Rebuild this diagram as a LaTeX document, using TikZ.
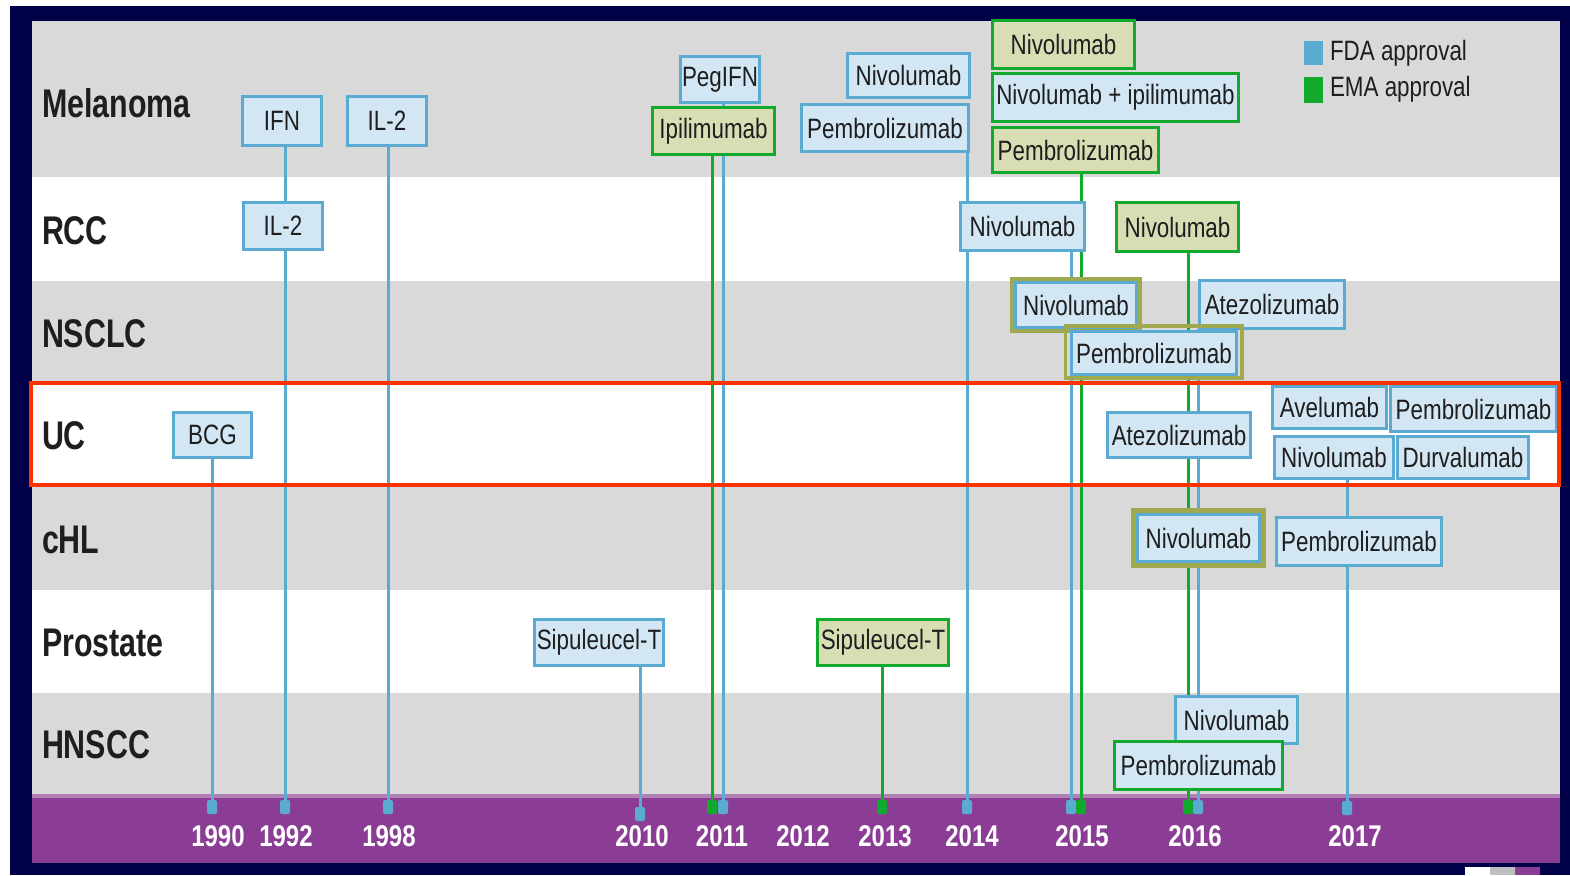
\documentclass[tikz,border=0pt]{standalone}
\usepackage{fontspec}
\setmainfont{Liberation Sans}[FakeStretch=0.8]
\newfontfamily\labelfont{Liberation Sans}[FakeStretch=0.76]
\definecolor{navy}{RGB}{0,0,72}
\definecolor{band}{RGB}{217,217,217}
\definecolor{purp}{RGB}{139,61,150}
\definecolor{purpl}{RGB}{176,128,182}
\definecolor{bborder}{RGB}{91,170,210}
\definecolor{bfill}{RGB}{210,230,244}
\definecolor{gborder}{RGB}{18,170,44}
\definecolor{ofill}{RGB}{215,222,180}
\definecolor{oline}{RGB}{160,168,80}
\definecolor{redc}{RGB}{255,51,0}
\definecolor{txt}{RGB}{30,30,30}
\pgfdeclarelayer{bands}
\pgfdeclarelayer{lines}
\pgfsetlayers{bands,lines,main}
\begin{document}
\begin{tikzpicture}[x=1pt,y=-1pt,
  every node/.style={inner sep=0pt,outer sep=0pt},
  boxtext/.style={text=txt,font=\fontsize{28}{30}\selectfont,line width=3.5pt},
  bbox/.style={boxtext,draw=bborder,fill=bfill},
  gbox/.style={boxtext,draw=gborder,fill=ofill},
  gbbox/.style={boxtext,draw=gborder,fill=bfill},
  oframe/.style={draw=oline,line width=3.5pt},
  bline/.style={draw=bborder,line width=3pt},
  gline/.style={draw=gborder,line width=3pt},
  bmark/.style={fill=bborder,rounded corners=2pt,minimum width=10pt,minimum height=14pt},
  gmark/.style={fill=gborder,rounded corners=2pt,minimum width=10pt,minimum height=14pt},
  rowlabel/.style={anchor=west,text=txt,font=\labelfont\bfseries\fontsize{40}{42}\selectfont},
  yearlabel/.style={text=white,font=\bfseries\fontsize{30}{32}\selectfont},
  legtext/.style={anchor=west,text=txt,font=\fontsize{28}{30}\selectfont},
]
\useasboundingbox (0,0) rectangle (1570,875);
\begin{pgfonlayer}{bands}
\fill[white] (0,0) rectangle (1570,875);
\fill[navy] (10,6) rectangle (1570,875);
\fill[white] (32,21) rectangle (1560,863);
\fill[band] (32,21) rectangle (1560,177);
\fill[band] (32,281) rectangle (1560,383);
\fill[band] (32,487) rectangle (1560,590);
\fill[band] (32,693) rectangle (1560,795);
\fill[purp] (32,795) rectangle (1560,863);
\fill[purpl] (32,794) rectangle (1560,798);
\fill[white] (1465,867) rectangle (1490,875);
\fill[black!25] (1490,867) rectangle (1515,875);
\fill[purp] (1515,867) rectangle (1540,875);
\end{pgfonlayer}

% row labels
\node[rowlabel] (lmel) at (42,103) {Melanoma};
\node[rowlabel] (lrcc) at (42,231) {RCC};
\node[rowlabel] (lnsclc) at (42,334) {NSCLC};
\node[rowlabel] (luc) at (42,436) {UC};
\node[rowlabel] (lchl) at (42,540) {cHL};
\node[rowlabel] (lpro) at (42,643) {Prostate};
\node[rowlabel] (lhn) at (42,745) {HNSCC};

% legend
\node[fill=bborder,minimum width=19pt,minimum height=24pt] (legb) at (1313.5,53) {};
\node[fill=gborder,minimum width=19pt,minimum height=26pt] (legg) at (1313.5,90) {};
\node[legtext] (legbt) at (1330,53) {FDA approval};
\node[legtext] (leggt) at (1330,89) {EMA approval};

% axis markers
\node[bmark] (m1990) at (212,807) {};
\node[bmark] (m1992) at (285,807) {};
\node[bmark] (m1998) at (388,807) {};
\node[bmark] (m2010) at (640,814) {};
\node[gmark] (m2011g) at (712,807) {};
\node[bmark] (m2011b) at (723,807) {};
\node[gmark] (m2013) at (882,807) {};
\node[bmark] (m2014) at (967,807) {};
\node[bmark] (m2015b) at (1071,807) {};
\node[gmark] (m2015g) at (1081,807) {};
\node[gmark] (m2016g) at (1188,807) {};
\node[bmark] (m2016b) at (1198,807) {};
\node[bmark] (m2017) at (1347,808) {};

% years
\node[yearlabel] (y1990) at (218,836) {1990};
\node[yearlabel] (y1992) at (286,836) {1992};
\node[yearlabel] (y1998) at (389,836) {1998};
\node[yearlabel] (y2010) at (642,836) {2010};
\node[yearlabel] (y2011) at (722,836) {2011};
\node[yearlabel] (y2012) at (803,836) {2012};
\node[yearlabel] (y2013) at (885,836) {2013};
\node[yearlabel] (y2014) at (972,836) {2014};
\node[yearlabel] (y2015) at (1082,836) {2015};
\node[yearlabel] (y2016) at (1195,836) {2016};
\node[yearlabel] (y2017) at (1355,836) {2017};

% Melanoma
\node[bbox,minimum width=79pt,minimum height=49pt] (ifn) at (282,121) {IFN};
\node[bbox,minimum width=79pt,minimum height=49pt] (ilmel) at (387,121) {IL-2};
\node[bbox,minimum width=79pt,minimum height=46pt] (pegifn) at (720,79.5) {PegIFN};
\node[gbox,minimum width=122pt,minimum height=47pt] (ipi) at (713.5,131) {Ipilimumab};
\node[bbox,minimum width=122pt,minimum height=44pt] (nivmel) at (908.5,75.5) {Nivolumab};
\node[bbox,minimum width=167pt,minimum height=47pt] (pembmel) at (885,128) {Pembrolizumab};
\node[gbox,minimum width=142pt,minimum height=48pt] (nivmelema) at (1063.5,44.5) {Nivolumab};
\node[gbbox,minimum width=246pt,minimum height=48pt] (nivipi) at (1115.5,97.5) {Nivolumab + ipilimumab};
\node[gbox,minimum width=166pt,minimum height=45pt] (pembmelema) at (1075.5,150) {Pembrolizumab};

% RCC
\node[bbox,minimum width=79pt,minimum height=47pt] (ilrcc) at (283,226) {IL-2};
\node[bbox,minimum width=124pt,minimum height=48pt] (nivrcc) at (1022.5,226.5) {Nivolumab};
\node[gbox,minimum width=122pt,minimum height=49pt] (nivrccema) at (1177.5,227) {Nivolumab};

% NSCLC
\node[bbox,minimum width=121pt,minimum height=45pt] (nivnsclc) at (1076,305) {Nivolumab};
\draw[oframe] ([xshift=-3.5pt,yshift=3.5pt]nivnsclc.north west) rectangle ([xshift=3.5pt,yshift=-3.5pt]nivnsclc.south east);
\node[bbox,minimum width=145pt,minimum height=48pt] (atezonsclc) at (1272,304.5) {Atezolizumab};
\draw[oframe] (1065.5,326) rectangle (1242,378);
\node[bbox,minimum width=165pt,minimum height=43pt] (pembnsclc) at (1154,353) {Pembrolizumab};

% UC
\node[bbox,minimum width=78pt,minimum height=45pt] (bcg) at (212.5,435) {BCG};
\node[bbox,minimum width=143pt,minimum height=45pt] (atezouc) at (1179,435) {Atezolizumab};
\node[bbox,minimum width=114pt,minimum height=42pt] (avel) at (1329.5,407.5) {Avelumab};
\node[bbox,minimum width=166pt,minimum height=45pt] (pembuc) at (1473.5,409) {Pembrolizumab};
\node[bbox,minimum width=119pt,minimum height=42pt] (nivuc) at (1334,457.5) {Nivolumab};
\node[bbox,minimum width=131pt,minimum height=42pt] (durva) at (1463,457.5) {Durvalumab};

% cHL
\node[bbox,minimum width=122pt,minimum height=47pt] (nivchl) at (1198.5,538) {Nivolumab};
\draw[oframe,line width=4.5pt] ([xshift=-4pt,yshift=4pt]nivchl.north west) rectangle ([xshift=4pt,yshift=-4pt]nivchl.south east);
\node[bbox,minimum width=165pt,minimum height=48pt] (pembchl) at (1359,541.5) {Pembrolizumab};

% Prostate
\node[bbox,minimum width=129pt,minimum height=46pt] (sipb) at (599,642.5) {Sipuleucel-T};
\node[gbox,minimum width=131pt,minimum height=46pt] (sipg) at (883,642.5) {Sipuleucel-T};

% HNSCC
\node[bbox,minimum width=122pt,minimum height=47pt] (nivhn) at (1236.5,720) {Nivolumab};
\node[gbbox,minimum width=168pt,minimum height=48pt] (pembhn) at (1198.5,765.5) {Pembrolizumab};

% connectors
\begin{pgfonlayer}{lines}
\draw[bline] (ifn.south -| m1992) -- (m1992.center);
\draw[bline] (ilmel.south -| m1998) -- (m1998.center);
\draw[bline] (bcg.south -| m1990) -- (m1990.center);
\draw[bline] (pegifn.south -| m2011b) -- (m2011b.center);
\draw[gline] (ipi.south -| m2011g) -- (m2011g.center);
\draw[bline] (pembmel.south -| m2014) -- (m2014.center);
\draw[gline] (pembmelema.south -| m2015g) -- (m2015g.center);
\draw[bline] (nivrcc.south -| m2015b) -- (m2015b.center);
\draw[gline] (nivrccema.south -| m2016g) -- (m2016g.center);
\draw[bline] (atezonsclc.south -| m2016b) -- (m2016b.center);
\draw[bline] (nivuc.south -| m2017) -- (m2017.center);
\draw[bline] (sipb.south -| m2010) -- (m2010.center);
\draw[gline] (sipg.south -| m2013) -- (m2013.center);
\end{pgfonlayer}

% highlight frame
\draw[redc,line width=4.5pt] (31,383) rectangle (1559,485);
\end{tikzpicture}
\end{document}
